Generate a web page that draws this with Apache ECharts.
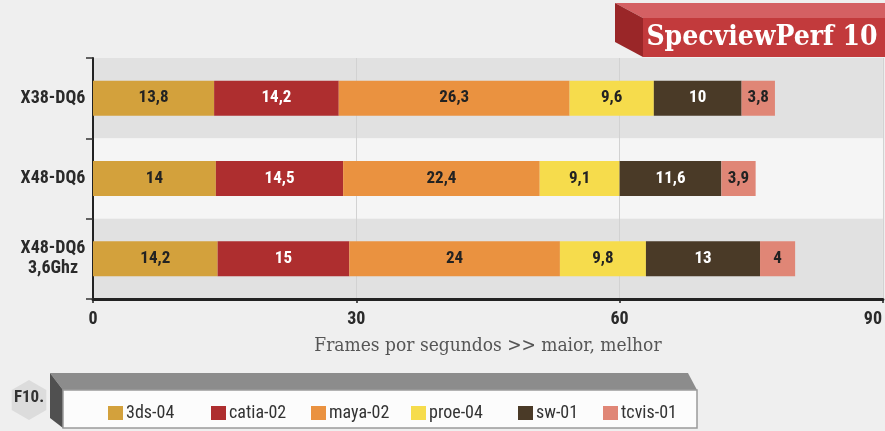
<!DOCTYPE html>
<html><head><meta charset="utf-8">
<script src="https://cdn.jsdelivr.net/npm/echarts@6/dist/echarts.min.js"></script>
<style>html,body{margin:0;padding:0;background:#efefef}#c{width:885px;height:431px}</style>
</head><body><div id="c"></div>
<script>
const categories = ['X38-DQ6', 'X48-DQ6', 'X48-DQ6\n3,6Ghz'];
const seriesNames = ['3ds-04', 'catia-02', 'maya-02', 'proe-04', 'sw-01', 'tcvis-01'];
const v3ds = [13.8, 14, 14.2];
const vCatia = [14.2, 14.5, 15];
const vMaya = [26.3, 22.4, 24];
const vProe = [9.6, 9.1, 9.8];
const vSw = [10, 11.6, 13];
const vTcvis = [3.8, 3.9, 4];
const xTicks = [0, 30, 60, 90];
const colors = ['#d3a13c', '#ae2e2f', '#ea9240', '#f6dc4c', '#4a3a27', '#e08676'];
const labelColors = ['#222', '#fff', '#222', '#222', '#fff', '#222'];
const allValues = [v3ds, vCatia, vMaya, vProe, vSw, vTcvis];

const COND = '"Roboto Condensed", "DejaVu Sans Condensed", sans-serif';
const SLAB = '"DejaVu Serif Condensed", "DejaVu Serif", serif';

const chart = echarts.init(document.getElementById('c'));
const legendLefts = [103, 206, 306, 406, 513, 598];

function hexPts(cx, cy, r) {
  const p = [];
  for (let i = 0; i < 6; i++) { const a = Math.PI / 3 * i + Math.PI / 6; p.push([cx + r * Math.cos(a), cy + r * Math.sin(a)]); }
  return p;
}

chart.setOption({
  backgroundColor: '#efefef',
  animation: false,
  grid: { left: 93, top: 58, width: 799, height: 241, containLabel: false },
  xAxis: {
    type: 'value', min: xTicks[0], max: xTicks[xTicks.length - 1], interval: 30,
    axisLine: { show: true, lineStyle: { color: '#222', width: 3 } },
    axisTick: { show: true, length: 4, lineStyle: { color: '#222', width: 1.5 } },
    splitLine: { show: true, lineStyle: { color: '#d2d2d2', width: 1 } },
    axisLabel: {
      fontFamily: COND, fontWeight: 'bold', fontSize: 18, color: '#2a2a2a', margin: 11,
      formatter: v => v === 90 ? '{r|90}' : String(v),
      rich: { r: { fontFamily: COND, fontWeight: 'bold', fontSize: 18, color: '#2a2a2a', padding: [0, 20, 0, 0] } }
    },
    name: 'Frames por segundos >> maior, melhor',
    nameLocation: 'middle', nameGap: 38,
    nameTextStyle: { fontFamily: SLAB, fontSize: 19, color: '#555' }
  },
  yAxis: {
    type: 'category', data: categories, inverse: true,
    axisLine: { show: true, lineStyle: { color: '#222', width: 2 } },
    axisTick: { show: true, length: 7, lineStyle: { color: '#333', width: 1.5 } },
    axisLabel: { fontFamily: COND, fontWeight: 'bold', fontSize: 18, color: '#2a2a2a', margin: 40, lineHeight: 20, align: 'center' },
    splitArea: { show: true, areaStyle: { color: ['#e1e1e1', '#f5f5f5'] } }
  },
  legend: seriesNames.map((n, i) => ({
    data: [n], left: legendLefts[i], top: 399, itemWidth: 15, itemHeight: 14, itemGap: 0,
    icon: 'rect', selectedMode: false,
    textStyle: { fontFamily: COND, fontSize: 18, color: '#333', padding: [0, 0, 0, -2] }
  })),
  graphic: [
    { type: 'polygon', shape: { points: [[615, 3], [885, 3], [885, 18], [643, 18]] }, style: { fill: '#d46063' }, z: 10 },
    { type: 'polygon', shape: { points: [[615, 3], [643, 18], [643, 57], [615, 42]] }, style: { fill: '#9a2628' }, z: 10 },
    { type: 'rect', shape: { x: 643, y: 18, width: 242, height: 39 }, style: { fill: '#c23a3c' }, z: 10 },
    { type: 'text', x: 762, y: 38, style: { text: 'SpecviewPerf 10', fill: '#fff', font: 'bold 28px ' + SLAB, textAlign: 'center', textVerticalAlign: 'middle' }, z: 11 },
    { type: 'polygon', shape: { points: hexPts(29, 400, 20) }, style: { fill: '#dcdcdc' }, z: 1 },
    { type: 'text', x: 29, y: 398, style: { text: 'F10.', fill: '#333', font: 'bold 17px ' + COND, textAlign: 'center', textVerticalAlign: 'middle' }, z: 2 },
    { type: 'polygon', shape: { points: [[50, 373], [688, 373], [697, 390], [63, 390]] }, style: { fill: '#8c8c8c' }, z: 1 },
    { type: 'polygon', shape: { points: [[50, 373], [63, 390], [63, 428], [50, 418]] }, style: { fill: '#505050' }, z: 1 },
    { type: 'rect', shape: { x: 63, y: 390, width: 634, height: 38 }, style: { fill: '#fcfcfc', stroke: '#9a9a9a', lineWidth: 1.5 }, z: 1 }
  ],
  series: seriesNames.map((n, i) => ({
    name: n, type: 'bar', stack: 'total', barWidth: 35,
    data: allValues[i],
    itemStyle: { color: colors[i] },
    label: {
      show: true, position: 'inside', color: labelColors[i],
      fontFamily: COND, fontWeight: 'bold', fontSize: 17,
      formatter: p => String(p.value).replace('.', ',')
    }
  }))
});
</script></body></html>
